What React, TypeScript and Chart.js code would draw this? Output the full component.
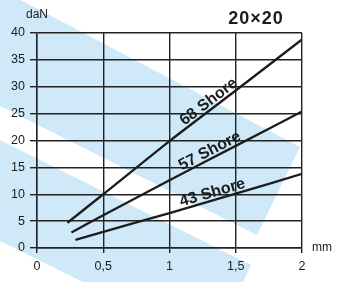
import React, { useEffect, useRef } from "react";
import { Chart, registerables } from "chart.js";

Chart.register(...registerables);

// ---- data ----
const shore68X = [0.23, 0.5, 1, 1.5, 2];
const shore68Y = [4.7, 10, 19.9, 29.3, 38.8];
const shore57X = [0.26, 0.5, 1, 1.5, 2];
const shore57Y = [2.9, 6.1, 12.6, 19.0, 25.4];
const shore43X = [0.29, 0.5, 1, 1.5, 2];
const shore43Y = [1.5, 3.0, 6.5, 10.1, 13.8];
const seriesNames = ["68 Shore", "57 Shore", "43 Shore"];
const labelAtX = [1.33, 1.33, 1.34];
const xTickLabels = ["0", "0,5", "1", "1,5", "2"];
const chartTitle = "20×20";
const yUnit = "daN";
const xUnit = "mm";

const FONT = "'Liberation Sans', Arial, Helvetica, sans-serif";
const INK = "#1c1c1c";
const BLUE = "#cfe9f8";

const toPoints = (xs: number[], ys: number[]) => xs.map((x, i) => ({ x, y: ys[i] }));

const backgroundPlugin = {
  id: "bgStripes",
  beforeDraw(chart: any) {
    const ctx = chart.ctx;
    ctx.save();
    ctx.fillStyle = "#ffffff";
    ctx.fillRect(0, 0, chart.width, chart.height);
    ctx.fillStyle = BLUE;
    // decorative diagonal bands
    ctx.beginPath();
    ctx.moveTo(0, -11);
    ctx.lineTo(300, 147);
    ctx.lineTo(257, 235);
    ctx.lineTo(0, 106);
    ctx.closePath();
    ctx.fill();
    ctx.beginPath();
    ctx.moveTo(0, 140);
    ctx.lineTo(251, 265);
    ctx.lineTo(243, 282);
    ctx.lineTo(83, 282);
    ctx.lineTo(0, 241);
    ctx.closePath();
    ctx.fill();
    ctx.restore();
  },
};

function interp(xs: number[], ys: number[], x: number) {
  for (let i = 0; i < xs.length - 1; i++) {
    if (x >= xs[i] && x <= xs[i + 1]) {
      const t = (x - xs[i]) / (xs[i + 1] - xs[i]);
      return ys[i] + t * (ys[i + 1] - ys[i]);
    }
  }
  return ys[ys.length - 1];
}

const seriesXs = [shore68X, shore57X, shore43X];
const seriesYs = [shore68Y, shore57Y, shore43Y];

const textPlugin = {
  id: "texts",
  afterDatasetsDraw(chart: any) {
    const ctx = chart.ctx;
    const xs = chart.scales.x;
    const ys = chart.scales.y;
    const area = chart.chartArea;
    ctx.save();
    // line labels
    ctx.fillStyle = INK;
    ctx.font = `bold 16px ${FONT}`;
    ctx.textAlign = "center";
    ctx.textBaseline = "alphabetic";
    for (let i = 0; i < seriesNames.length; i++) {
      const lx = labelAtX[i];
      const ly = interp(seriesXs[i], seriesYs[i], lx);
      const px = xs.getPixelForValue(lx);
      const py = ys.getPixelForValue(ly);
      const x2 = lx + 0.1;
      const y2 = interp(seriesXs[i], seriesYs[i], x2);
      const ang = Math.atan2(
        ys.getPixelForValue(y2) - py,
        xs.getPixelForValue(x2) - px
      );
      ctx.save();
      ctx.translate(px, py);
      ctx.rotate(ang);
      ctx.fillText(seriesNames[i], 0, -3);
      ctx.restore();
    }
    // units
    ctx.font = `12px ${FONT}`;
    ctx.textAlign = "center";
    ctx.textBaseline = "middle";
    ctx.fillText(yUnit, area.left, 15);
    ctx.textAlign = "left";
    ctx.fillText(xUnit, area.right + 10, area.bottom);
    // title
    ctx.font = `bold 18px ${FONT}`;
    try {
      (ctx as any).letterSpacing = "1px";
    } catch (e) {}
    ctx.textAlign = "center";
    ctx.fillText(chartTitle, 256, 19);
    ctx.restore();
  },
};

export default function App() {
  const ref = useRef<HTMLCanvasElement | null>(null);
  useEffect(() => {
    if (!ref.current) return;
    Chart.defaults.font.family = FONT;
    const chart = new Chart(ref.current, {
      type: "line",
      data: {
        datasets: [
          { label: seriesNames[0], data: toPoints(shore68X, shore68Y) },
          { label: seriesNames[1], data: toPoints(shore57X, shore57Y) },
          { label: seriesNames[2], data: toPoints(shore43X, shore43Y) },
        ].map((d) => ({
          ...d,
          borderColor: INK,
          borderWidth: 2.3,
          pointRadius: 0,
          tension: 0.2,
          fill: false,
        })),
      },
      options: {
        animation: false,
        responsive: false,
        devicePixelRatio: 1,
        layout: { padding: { top: 33, right: 42, left: 0, bottom: 0 } },
        plugins: { legend: { display: false }, title: { display: false }, tooltip: { enabled: false } },
        scales: {
          x: {
            type: "linear",
            min: 0,
            max: 2,
            afterFit: (s: any) => {
              s.height = 34;
            },
            ticks: {
              stepSize: 0.5,
              color: INK,
              font: { size: 12.5 },
              padding: 6,
              maxRotation: 0,
              callback: (_v: any, i: number) => xTickLabels[i],
            },
            grid: { color: "#222222", lineWidth: 1.4, tickLength: 5 },
            border: { color: "#222222", width: 1.4 },
          },
          y: {
            type: "linear",
            min: 0,
            max: 40,
            afterFit: (s: any) => {
              s.width = 37;
            },
            ticks: { stepSize: 5, color: INK, font: { size: 12.5 }, padding: 5 },
            grid: { color: "#222222", lineWidth: 1.4, tickLength: 7 },
            border: { color: "#222222", width: 1.4 },
          },
        },
      },
      plugins: [backgroundPlugin, textPlugin],
    });
    return () => chart.destroy();
  }, []);
  return (
    <div style={{ position: "absolute", left: 0, top: 0, width: 344, height: 282 }}>
      <canvas ref={ref} width={344} height={282} />
    </div>
  );
}
